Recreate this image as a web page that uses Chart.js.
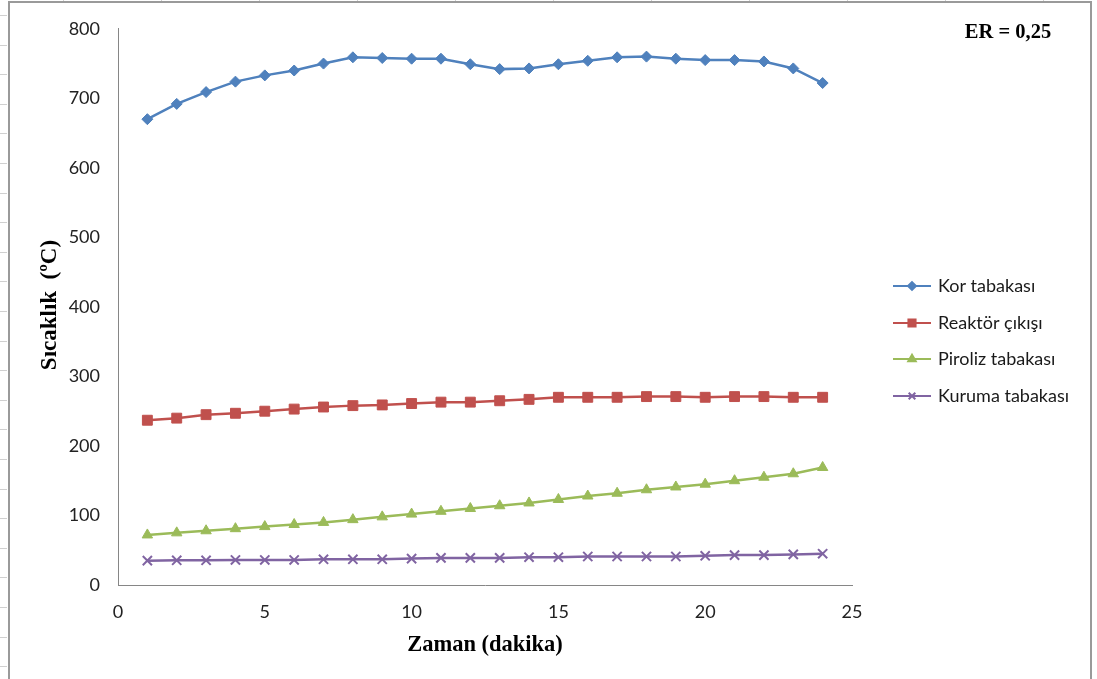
<!DOCTYPE html>
<html><head><meta charset="utf-8">
<script src="https://cdn.jsdelivr.net/npm/chart.js@4/dist/chart.umd.min.js"></script>
<style>html,body{margin:0;padding:0;background:#fff;overflow:hidden}#wrap{position:relative;width:1097px;height:679px}</style>
</head><body><div id="wrap"><canvas id="c" width="1097" height="679"></canvas></div>
<script>
const minutes = [1,2,3,4,5,6,7,8,9,10,11,12,13,14,15,16,17,18,19,20,21,22,23,24];
const korTabakasi = [670,692,709,724,733,740,750,759,758,757,757,749,742,743,749,754,759,760,757,755,755,753,743,722];
const reaktorCikisi = [237,240,245,247,250,253,256,258,259,261,263,263,265,267,270,270,270,271,271,270,271,271,270,270];
const pirolizTabakasi = [72,75,78,81,84,87,90,94,98,102,106,110,114,118,123,128,132,137,141,145,150,155,160,169];
const kurumaTabakasi = [35,35.5,35.5,36,36,36,37,37,37,38,39,39,39,40,40,41,41,41,41,42,43,43,44,45];
const seriesNames = ['Kor tabakası','Reaktör çıkışı','Piroliz tabakası','Kuruma tabakası'];
const xTicks = [0,5,10,15,20,25];
const yTicks = [0,100,200,300,400,500,600,700,800];
const xTitle = 'Zaman (dakika)';
const yTitle = 'Sıcaklık  (ºC)';
const noteText = 'ER = 0,25';

function pts(arr){ return minutes.map((m,i)=>({x:m,y:arr[i]})); }

const styles = [
  {color:'#4F81BD', pointStyle:'rectRot', radius:5.5, bw:1},
  {color:'#C0504D', pointStyle:'rect', radius:7, bw:1},
  {color:'#9BBB59', pointStyle:'triangle', radius:6, bw:1},
  {color:'#8064A2', pointStyle:'crossRot', radius:6.5, bw:2}
];
const seriesData = [korTabakasi, reaktorCikisi, pirolizTabakasi, kurumaTabakasi];

const datasets = seriesData.map((d,i)=>({
  label: seriesNames[i],
  data: pts(d),
  borderColor: styles[i].color,
  backgroundColor: styles[i].color,
  borderWidth: 2.5,
  pointStyle: styles[i].pointStyle,
  pointRadius: styles[i].radius,
  pointBorderWidth: styles[i].bw,
  pointBackgroundColor: styles[i].color,
  pointBorderColor: styles[i].color,
  tension: 0
}));

const framePlugin = {
  id:'frame',
  beforeDraw(chart){
    const ctx = chart.ctx;
    ctx.save();
    ctx.fillStyle='#fff';
    ctx.fillRect(0,0,chart.width,chart.height);
    ctx.strokeStyle='#9a9a9a';
    ctx.lineWidth=2;
    ctx.beginPath();
    ctx.moveTo(9,2); ctx.lineTo(9,679);
    ctx.moveTo(8,2); ctx.lineTo(1091,2);
    ctx.moveTo(1091,1); ctx.lineTo(1091,679);
    ctx.stroke();
    ctx.strokeStyle='#d0d0d0';
    ctx.lineWidth=1;
    ctx.beginPath();
    for(let y=15;y<679;y+=29.6){ ctx.moveTo(0,Math.round(y)+0.5); ctx.lineTo(7,Math.round(y)+0.5); }
    for(let x=63;x<1097;x+=98){ ctx.moveTo(Math.round(x)+0.5,0); ctx.lineTo(Math.round(x)+0.5,1); }
    ctx.stroke();
    ctx.restore();
  }
};

const textPlugin = {
  id:'texts',
  afterDraw(chart){
    const ctx = chart.ctx;
    ctx.save();
    ctx.fillStyle='#000';
    ctx.font='bold 22.5px "Liberation Serif"';
    ctx.textAlign='center'; ctx.textBaseline='middle';
    ctx.fillText(xTitle, 485, 645);
    ctx.save();
    ctx.translate(50, 305);
    ctx.rotate(-Math.PI/2);
    ctx.font='bold 23px "Liberation Serif"';
    ctx.fillText(yTitle, 0, 0);
    ctx.restore();
    ctx.font='bold 20.5px "Liberation Serif"';
    ctx.fillText(noteText, 1008, 33);
    // legend
    const ys=[286,323,359,396];
    chart.data.datasets.forEach((ds,i)=>{
      const y=ys[i];
      ctx.strokeStyle=ds.borderColor; ctx.lineWidth=2;
      ctx.beginPath(); ctx.moveTo(893,y); ctx.lineTo(931,y); ctx.stroke();
      ctx.fillStyle=ds.borderColor;
      Chart.helpers.drawPoint(ctx,{pointStyle:ds.pointStyle,radius:ds.pointRadius*0.72,rotation:0,borderWidth:ds.pointBorderWidth},912,y);
      ctx.fillStyle='#1a1a1a';
      ctx.font='18px Lato';
      ctx.textAlign='left'; ctx.textBaseline='middle';
      ctx.fillText(ds.label, 938, y);
    });
    ctx.restore();
  }
};

new Chart(document.getElementById('c'), {
  type:'line',
  data:{datasets},
  options:{
    responsive:false, devicePixelRatio:1, animation:false,
    layout:{padding:{top:25,right:245,left:0,bottom:0}},
    plugins:{legend:{display:false}, tooltip:{enabled:false}},
    scales:{
      x:{type:'linear', min:0, max:25,
        afterFit(s){ s.height=94; },
        afterBuildTicks(s){ s.ticks = xTicks.map(v=>({value:v})); },
        grid:{display:false, drawTicks:false},
        border:{display:true, color:'#868686', width:1},
        ticks:{font:{family:'Lato', size:18}, color:'#222', padding:16, maxRotation:0}
      },
      y:{min:0, max:800,
        afterFit(s){ s.width=118; },
        afterBuildTicks(s){ s.ticks = yTicks.map(v=>({value:v})); },
        grid:{display:false, drawTicks:false},
        border:{display:true, color:'#868686', width:1},
        ticks:{font:{family:'Lato', size:18}, color:'#222', padding:18}
      }
    }
  },
  plugins:[framePlugin, textPlugin]
});
</script></body></html>
